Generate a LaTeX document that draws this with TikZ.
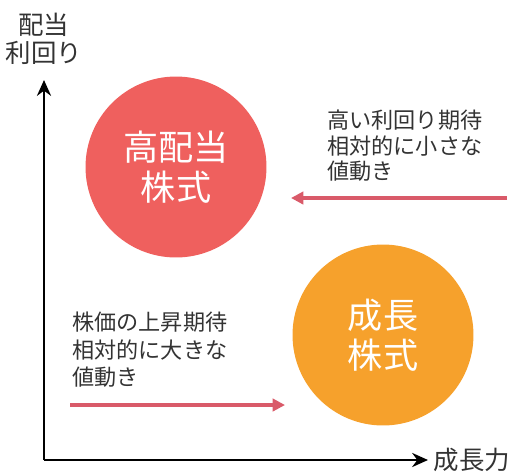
\documentclass[tikz,border=0pt]{standalone}
\usepackage{fontspec}
\setmainfont{Noto Sans CJK JP}
\usepackage{tikz}
\usetikzlibrary{arrows.meta}

\definecolor{highred}{HTML}{EF605E}
\definecolor{groworange}{HTML}{F6A12C}
\definecolor{arrowpink}{HTML}{D95A69}
\definecolor{textgray}{HTML}{333333}

\tikzset{
    ball/.style={circle, minimum size=3.62cm, inner sep=0pt, text=white, align=center,
        font=\fontsize{20}{23}\selectfont},
    note/.style={anchor=north west, align=left, text=textgray, inner sep=0pt,
        font=\fontsize{12.6}{14.5}\selectfont},
    axislabel/.style={text=textgray, align=center, font=\fontsize{14.5}{16}\selectfont},
    axisline/.style={line width=1.6pt, -{Stealth[length=9pt, width=8pt]}},
    move/.style={arrowpink, line width=1.8pt, -{Triangle[length=7pt, width=7pt]}}
}

\begin{document}
\begin{tikzpicture}[x=0.02cm, y=-0.02cm]
        \useasboundingbox (0, 0) rectangle (514, 471);

        % axes
        \coordinate (O) at (44, 460);
        \coordinate (ytop) at (44, 80);
        \coordinate (xend) at (428, 460);
        \draw (44, 39) node[axislabel] (ylab) {配当\\利回り};
        \draw (472, 460) node[axislabel] (xlab) {成長力};
        \draw[axisline] (O) -- (ytop);
        \draw[axisline] (O) -- (xend);

        % the two kinds of stock
        \draw (176, 167) node[ball, fill=highred] (high) {高配当\\株式};
        \draw (383, 335) node[ball, fill=groworange] (growth) {成長\\株式};

        % notes
        \draw (327, 110) node[note] (highnote) {高い利回り期待\\相対的に小さな\\値動き};
        \draw (72, 312) node[note, font=\fontsize{12.6}{15.5}\selectfont] (grownote) {株価の上昇期待\\相対的に大きな\\値動き};

        \coordinate (hs) at (507, 198);
        \coordinate (he) at (291, 198);
        \coordinate (gs) at (70, 405);
        \coordinate (ge) at (285, 405);
        \draw[move] (hs) -- (he);
        \draw[move] (gs) -- (ge);
    \end{tikzpicture}
\end{document}
